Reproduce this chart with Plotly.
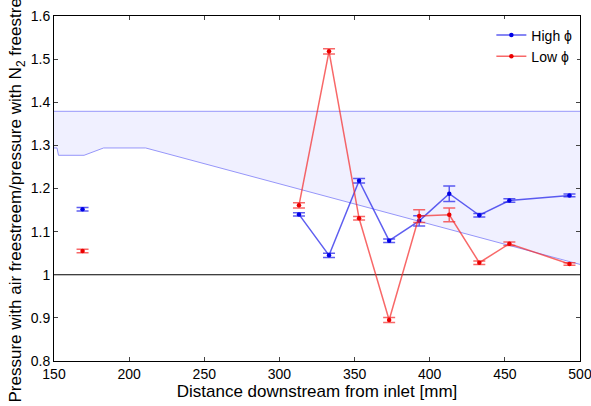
import plotly.graph_objects as go

# Data
x_iso = [169]
high_iso = [1.152]
high_iso_err = [0.004]
low_iso = [1.055]
low_iso_err = [0.004]

x_main = [313, 333, 353, 373, 393, 413, 433, 453, 493]
high_y = [1.140, 1.045, 1.218, 1.079, 1.125, 1.188, 1.138, 1.172, 1.184]
high_err = [0.004, 0.005, 0.005, 0.004, 0.012, 0.018, 0.004, 0.004, 0.003]
low_y = [1.161, 1.518, 1.131, 0.895, 1.136, 1.139, 1.028, 1.072, 1.025]
low_err = [0.006, 0.006, 0.004, 0.006, 0.015, 0.016, 0.004, 0.004, 0.003]

band_x = [150, 152, 153, 170, 183, 211, 500]
band_lower = [1.294, 1.294, 1.277, 1.277, 1.294, 1.294, 1.024]
band_upper = 1.379

x_ticks = [150, 200, 250, 300, 350, 400, 450, 500]
y_ticks = [0.8, 0.9, 1.0, 1.1, 1.2, 1.3, 1.4, 1.5, 1.6]

BLUE_L = "rgba(40,40,235,0.75)"
BLUE_M = "rgb(0,0,230)"
RED_L = "rgba(245,40,40,0.7)"
RED_M = "rgb(235,0,0)"
BAND_LINE = "rgb(150,150,250)"
BAND_FILL = "rgb(240,240,255)"

fig = go.Figure()

fig.add_trace(go.Scatter(x=band_x[::-1] + [band_x[0], band_x[-1]],
                         y=band_lower[::-1] + [band_upper, band_upper],
                         mode="none", fill="toself", fillcolor=BAND_FILL,
                         showlegend=False, hoverinfo="skip"))
fig.add_trace(go.Scatter(x=[band_x[0], band_x[-1]], y=[band_upper, band_upper],
                         mode="lines", line=dict(color=BAND_LINE, width=1),
                         showlegend=False, hoverinfo="skip"))
fig.add_trace(go.Scatter(x=band_x, y=band_lower, mode="lines",
                         line=dict(color=BAND_LINE, width=1),
                         showlegend=False, hoverinfo="skip"))

# y = 1 reference line
fig.add_trace(go.Scatter(x=[x_ticks[0], x_ticks[-1]], y=[1, 1], mode="lines",
                         line=dict(color="black", width=1),
                         showlegend=False, hoverinfo="skip"))

def series(x, y, err, lc, mc, name, show, mode):
    return go.Scatter(
        x=x, y=y, mode=mode, name=name, showlegend=show,
        line=dict(color=lc, width=1.5),
        marker=dict(color=mc, size=4.5),
        error_y=dict(type="data", array=err, visible=True, color=lc,
                     thickness=1.5, width=6),
    )

fig.add_trace(series(x_main, high_y, high_err, BLUE_L, BLUE_M, "High ϕ", True, "lines+markers"))
fig.add_trace(series(x_main, low_y, low_err, RED_L, RED_M, "Low ϕ", True, "lines+markers"))
fig.add_trace(series(x_iso, high_iso, high_iso_err, BLUE_L, BLUE_M, "High ϕ", False, "markers"))
fig.add_trace(series(x_iso, low_iso, low_iso_err, RED_L, RED_M, "Low ϕ", False, "markers"))

font = dict(family="Liberation Sans, Arial, sans-serif", size=14, color="black")

fig.update_layout(
    width=591, height=406,
    margin=dict(l=54, r=11, t=16, b=45),
    paper_bgcolor="white", plot_bgcolor="white",
    font=font,
    legend=dict(x=0.995, y=0.99, xanchor="right", yanchor="top",
                bgcolor="white", borderwidth=0, font=dict(size=14),
                tracegroupgap=0, itemwidth=30),
    xaxis=dict(range=[150, 500], tickvals=x_ticks, ticks="inside", ticklen=4,
               showline=True, linecolor="black", linewidth=1, mirror="ticks",
               showgrid=False, zeroline=False, automargin=False,
               ticklabeloverflow="allow",
               tickfont=dict(size=14),
               title=dict(text="Distance downstream from inlet [mm]", standoff=2)),
    yaxis=dict(range=[0.8, 1.6], tickvals=y_ticks, ticks="inside", ticklen=4,
               showline=True, linecolor="black", linewidth=1, mirror="ticks",
               showgrid=False, zeroline=False, automargin=False,
               ticklabeloverflow="allow",
               tickfont=dict(size=14),
               title=dict(text="Pressure with air freestreem/pressure with N<sub>2</sub> freestream",
                          standoff=4)),
)

fig.write_html("out.html")
